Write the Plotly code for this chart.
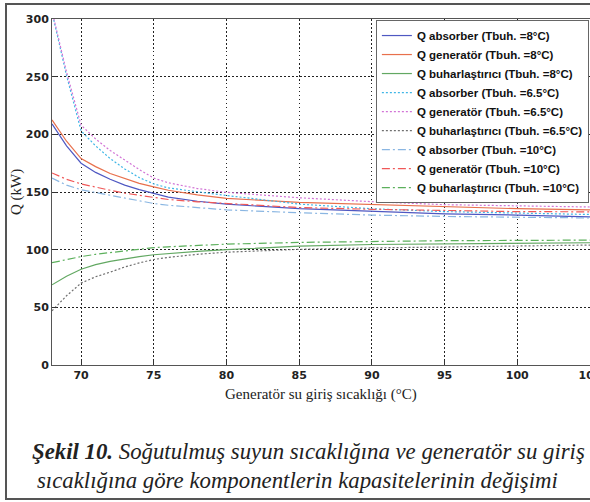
import plotly.graph_objects as go

# ---- data ----
x_temp = [68, 69, 70, 71, 72, 73, 74, 75, 76, 78, 80, 85, 90, 95, 100, 105]

q_abs_8 = [209, 190, 175, 167, 161, 156, 152, 148.5, 145.5, 142, 139.5, 135.5, 133, 131, 130, 128.5]
q_gen_8 = [212.5, 194, 179, 172, 166, 161.5, 157.5, 154.5, 151.5, 147.5, 144.5, 141, 139, 137, 135.5, 134.5]
q_evap_8 = [69.5, 77, 83, 87, 89.8, 92.2, 94, 95.6, 96.8, 98.6, 100, 103, 104.5, 105.2, 105.7, 106]

q_abs_65 = [306, 251, 203, 190, 179, 170, 162.5, 157, 153.5, 150, 147, 139.5, 135.5, 133, 131.5, 130.5]
q_gen_65 = [307, 254, 208, 196, 186, 177.5, 169.5, 162, 158, 153, 149.7, 145, 141.6, 139, 137.8, 137]
q_evap_65 = [47, 60, 71, 76.5, 80.5, 85, 88.5, 91.5, 93.3, 96, 97.8, 100.3, 101.5, 102.5, 103.3, 104]

q_abs_10 = [162, 156, 152, 149.5, 147, 144.5, 142, 140, 138.5, 136.5, 134.5, 132, 130, 128.8, 128, 127.5]
q_gen_10 = [166.5, 161, 157, 154, 151.5, 149, 147, 145, 143.5, 141.5, 140, 136.5, 135, 134, 133, 132.8]
q_evap_10 = [88.7, 91.5, 94, 96, 97.5, 99, 100.5, 101.8, 102.5, 103.8, 104.8, 106.3, 107.2, 107.8, 108, 108.3]

series_names = [
    "Q absorber (Tbuh. =8°C)",
    "Q generatör (Tbuh. =8°C)",
    "Q buharlaştırıcı (Tbuh. =8°C)",
    "Q absorber (Tbuh. =6.5°C)",
    "Q generatör (Tbuh. =6.5°C)",
    "Q buharlaştırıcı (Tbuh. =6.5°C)",
    "Q absorber (Tbuh. =10°C)",
    "Q generatör (Tbuh. =10°C)",
    "Q buharlaştırıcı (Tbuh. =10°C)",
]
series_values = [q_abs_8, q_gen_8, q_evap_8, q_abs_65, q_gen_65, q_evap_65, q_abs_10, q_gen_10, q_evap_10]
series_colors = ["#4f58c2", "#e8704c", "#62a862", "#3fb6e6", "#d274d6", "#707070", "#8ab6e2", "#f05858", "#5cb05c"]
series_dash = ["solid", "solid", "solid", "2px,2px", "2px,2px", "2px,2px",
               "8px,3px,2px,3px", "8px,3px,2px,3px", "8px,3px,2px,3px"]

x_ticks = [70, 75, 80, 85, 90, 95, 100, 105]
y_ticks = [0, 50, 100, 150, 200, 250, 300]

fig = go.Figure()
for name, vals, col, dsh in zip(series_names, series_values, series_colors, series_dash):
    fig.add_trace(go.Scatter(x=x_temp, y=vals, mode="lines", name=name,
                             line=dict(color=col, width=1.2, dash=dsh)))

tick_font = dict(family="DejaVu Sans", size=11, color="#222", weight="bold")
axis_common = dict(showline=True, mirror=True, linecolor="#555", linewidth=1,
                   showgrid=True, gridcolor="#222", gridwidth=1, griddash="1.5px,2.5px",
                   zeroline=False, ticks="inside", ticklen=5, tickcolor="#333", tickwidth=1,
                   tickfont=tick_font, automargin=False, ticklabeloverflow="allow")

fig.update_layout(
    template="none",
    width=590, height=502,
    margin=dict(l=52, r=0, t=19, b=137),
    paper_bgcolor="white", plot_bgcolor="white",
    xaxis=dict(range=[68, 105], tickvals=x_ticks, **axis_common),
    yaxis=dict(range=[0, 300], tickvals=y_ticks, **axis_common),
    showlegend=True,
    legend=dict(x=0.602, y=0.997, xanchor="left", yanchor="top",
                bgcolor="white", bordercolor="#666", borderwidth=1,
                font=dict(family="Liberation Sans", size=11.5, color="#111", weight="bold"),
                itemwidth=30, tracegroupgap=0),
    annotations=[
        dict(text="Generatör su giriş sıcaklığı (°C)", x=0.5, y=-0.0867, xref="paper", yref="paper",
             xanchor="center", yanchor="middle", showarrow=False,
             font=dict(family="Liberation Serif", size=15, color="#222")),
        dict(text="Q (kW)", x=-0.0669, y=0.5, xref="paper", yref="paper", textangle=-90,
             xanchor="center", yanchor="middle", showarrow=False,
             font=dict(family="Liberation Serif", size=15, color="#222")),
        dict(text="<b><i>Şekil 10.</i></b><i> Soğutulmuş suyun sıcaklığına ve generatör su giriş</i>",
             x=0.476, y=-0.2514, xref="paper", yref="paper", xanchor="center", yanchor="middle",
             showarrow=False, font=dict(family="Liberation Serif", size=22.8, color="#222")),
        dict(text="<i>sıcaklığına göre komponentlerin kapasitelerinin değişimi</i>",
             x=0.456, y=-0.3324, xref="paper", yref="paper", xanchor="center", yanchor="middle",
             showarrow=False, font=dict(family="Liberation Serif", size=22.8, color="#222")),
    ],
    shapes=[
        dict(type="rect", xref="paper", yref="paper", x0=-0.0855, x1=1.02, y0=-0.387, y1=1.0434,
             line=dict(color="#555", width=2), fillcolor="rgba(0,0,0,0)"),
    ],
)

fig.write_html("out.html")
